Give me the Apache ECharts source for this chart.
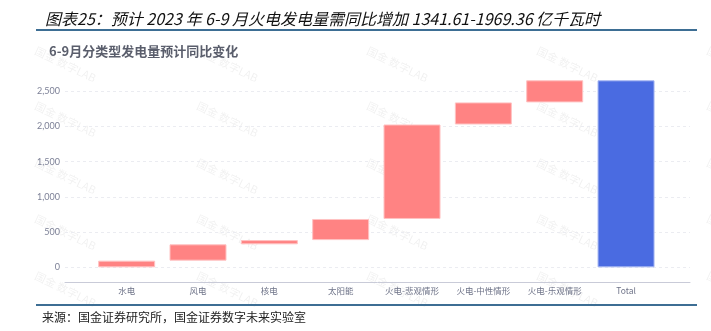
<!DOCTYPE html>
<html><head><meta charset="utf-8">
<script src="https://cdn.jsdelivr.net/npm/echarts@6/dist/echarts.min.js"></script>
<style>html,body{margin:0;padding:0;background:#fff}#c{width:711px;height:331px}</style>
</head><body><div id="c"></div>
<script>
const categories = ['水电','风电','核电','太阳能','火电-悲观情形','火电-中性情形','火电-乐观情形','Total'];
const deltas = [95, 232, 60, 300, 1341.61, 313.88, 313.87];
const total = 2656;
const yTicks = [0, 500, 1000, 1500, 2000, 2500];

// build waterfall table
const baseData = [], riseData = [], totalData = [];
let acc = 0;
deltas.forEach((d, i) => {
  baseData.push(acc);
  riseData.push(d);
  totalData.push('-');
  acc += d;
});
baseData.push(0);
riseData.push('-');
totalData.push(total);

const wm = [];
[38, 200, 370, 540, 710].forEach(x => {
  [45, 100, 157, 213, 270].forEach(y => {
    wm.push({type:'text', x:x, y:y, rotation:-0.45, silent:true, z:-1,
      style:{text:'国金 数字LAB', fill:'rgba(0,0,0,0.06)', font:'11px "Noto Sans CJK SC"', textVerticalAlign:'top'}});
  });
});

const chart = echarts.init(document.getElementById('c'), null, {renderer:'canvas'});
chart.setOption({
  backgroundColor:'#fff',
  animation:false,
  title:[
    {text:'图表25：预计 2023 年 6-9 月火电发电量需同比增加 1341.61-1969.36 亿千瓦时', left:40, top:6,
     textStyle:{fontSize:16, fontStyle:'italic', fontWeight:'normal', color:'#111', fontFamily:'"Noto Sans CJK SC"'}},
    {text:'6-9月分类型发电量预计同比变化', left:44, top:40,
     textStyle:{fontSize:13, fontWeight:'bold', color:'#5a5e6c', fontFamily:'"Noto Sans CJK SC"'}}
  ],
  graphic: wm.concat([
    {type:'line', shape:{x1:36, y1:30, x2:697, y2:30}, style:{stroke:'#3d6e94', lineWidth:2}},
    {type:'line', shape:{x1:36, y1:305, x2:697, y2:305}, style:{stroke:'#3d6e94', lineWidth:2}},
    {type:'text', x:42, y:317, style:{text:'来源：国金证券研究所，国金证券数字未来实验室', fill:'#222',
      font:'12px "Noto Sans CJK SC"', textVerticalAlign:'middle'}}
  ]),
  grid:[
    {left:65, right:21, top:91.3, bottom:49},
    {left:91, right:49.3, top:91.3, bottom:49}
  ],
  xAxis:[
    {type:'value', gridIndex:0, min:0, max:1,
     axisLine:{show:true, onZero:false, lineStyle:{color:'#c9cbd8'}},
     axisTick:{show:false}, splitLine:{show:false}, axisLabel:{show:false}},
    {type:'category', gridIndex:1, data:categories,
     axisLine:{show:false, onZero:false}, axisTick:{show:false},
     axisLabel:{color:'#6e7388', fontSize:8.5, margin:5, interval:0, fontFamily:'"Noto Sans CJK SC"'}}
  ],
  yAxis:[
    {type:'value', gridIndex:0, min:-208, max:2500,
     axisLine:{show:false},
     axisTick:{show:false, customValues:yTicks},
     axisLabel:{customValues:yTicks, color:'#7d8197', fontSize:9, margin:5, fontFamily:'Lato',
       formatter:v => v.toLocaleString('en-US')},
     splitLine:{show:true, lineStyle:{color:'#ebecf1', type:[3,3]}}},
    {type:'value', gridIndex:1, min:-208, max:2500, show:false,
     splitLine:{show:false}}
  ],
  series:[
    {type:'bar', xAxisIndex:1, yAxisIndex:1, stack:'w', data:baseData, barWidth:57, clip:false,
     itemStyle:{color:'transparent'}, silent:true},
    {type:'bar', xAxisIndex:1, yAxisIndex:1, stack:'w', data:riseData, barWidth:57, clip:false,
     itemStyle:{color:'#ff8383', borderColor:'#ffc2c2', borderWidth:1}},
    {type:'bar', xAxisIndex:1, yAxisIndex:1, stack:'w', data:totalData, barWidth:57, clip:false,
     itemStyle:{color:'#4a6be1', borderColor:'#a6b6f2', borderWidth:1}}
  ]
});
</script></body></html>
